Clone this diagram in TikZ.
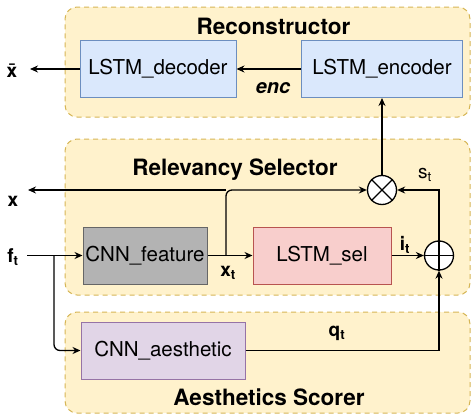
\documentclass[tikz,border=0pt]{standalone}
\usepackage{fontspec}
\setmainfont{TeX Gyre Heros}
\usetikzlibrary{arrows.meta}
\tikzset{>={Stealth[length=8pt,width=7pt]}}

\definecolor{grpfill}{HTML}{FFF2CC}
\definecolor{grpline}{HTML}{D6B656}
\definecolor{bluefill}{HTML}{DAE8FC}
\definecolor{blueline}{HTML}{6C8EBF}
\definecolor{grayfill}{HTML}{B3B3B3}
\definecolor{grayline}{HTML}{666666}
\definecolor{pinkfill}{HTML}{F8CECC}
\definecolor{pinkline}{HTML}{B85450}
\definecolor{purpfill}{HTML}{E1D5E7}
\definecolor{purpline}{HTML}{9673A6}

\begin{document}
\begin{tikzpicture}[x=1pt, y=-1pt, line width=1.3pt,
  group/.style={draw=grpline, fill=grpfill, dash pattern=on 5pt off 4pt, rounded corners=12pt, line width=1pt},
  block/.style={draw, line width=1pt, inner sep=0pt, minimum height=57pt, font=\fontsize{20.5}{24}\selectfont},
  title/.style={font=\fontsize{22.5}{26}\selectfont\bfseries},
  lbl/.style={font=\fontsize{19}{22}\selectfont\bfseries},
  op/.style={circle, draw, fill=white, minimum size=29pt, inner sep=0pt}]
  \useasboundingbox (0,0) rectangle (472,415);

  % Groups
  \node[group, minimum width=405pt, minimum height=110pt] (recgrp) at (267.5,62) {};
  \node[group, minimum width=405pt, minimum height=156pt] (relgrp) at (267.5,217) {};
  \node[group, minimum width=405pt, minimum height=101pt] (aesgrp) at (267.5,362.5) {};
  \node[title] (rectitle) at (273.5,26) {Reconstructor};
  \node[title] (reltitle) at (235,170) {Relevancy Selector};
  \node[title] (aestitle) at (269,397) {Aesthetics Scorer};

  % Boxes
  \node[block, draw=blueline, fill=bluefill, minimum width=156pt] (dec) at (158,69) {LSTM\_decoder};
  \node[block, draw=blueline, fill=bluefill, minimum width=161pt] (encd) at (382,69) {LSTM\_encoder};
  \node[block, draw=grayline, fill=grayfill, minimum width=124pt] (feat) at (145,255.5) {CNN\_feature};
  \node[block, draw=pinkline, fill=pinkfill, minimum width=138pt] (sel) at (322,255.5) {LSTM\_sel};
  \node[block, draw=purpline, fill=purpfill, minimum width=164pt] (aes) at (163,350.5) {CNN\_aesthetic};

  % Operators
  \node[op] (mul) at (382,190) {};
  \draw (mul.north east) -- (mul.south west) (mul.north west) -- (mul.south east);
  \node[op] (add) at (439,255.5) {};
  \draw (add.north) -- (add.south) (add.east) -- (add.west);

  % Reconstructor
  \coordinate (xbar) at (30,69);
  \draw[->] (dec.west) -- (xbar);
  \draw[->] (encd.west) -- (dec.east);
  \draw[->] (mul.north) -- (encd.south);
  \node[lbl] (xbarlbl) at (12,71) {\={x}};
  \node[font=\fontsize{20}{24}\selectfont\bfseries\itshape] (enclbl) at (273,88) {enc};

  % Relevancy Selector
  \coordinate (fin) at (27,255.5);
  \coordinate (fork) at (54,255.5);
  \coordinate (split) at (226,255.5);
  \coordinate (xout) at (28,190);
  \draw[->] (fin) -- (feat.west);
  \draw[->] (feat.east) -- (sel.west);
  \draw[->, rounded corners=6pt] (split) |- (mul.west);
  \draw[->] (split |- mul.west) -- (xout);
  \draw[->] (sel.east) -- (add.west);
  \draw[->] (add.north) |- (mul.east);
  \node[lbl] (flbl) at (13,257) {f\textsubscript{t}};
  \node[lbl] (xlbl) at (13,201) {x};
  \node[lbl] (xtlbl) at (228,273) {x\textsubscript{t}};
  \node[lbl] (itlbl) at (405,245) {i\textsubscript{t}};
  \node[font=\fontsize{19}{22}\selectfont] (stlbl) at (425,175) {s\textsubscript{t}};

  % Aesthetics Scorer
  \draw[->, rounded corners=6pt] (fork) |- (aes.west);
  \draw[->] (aes.east) -| (add.south);
  \node[lbl] (qtlbl) at (337,333) {q\textsubscript{t}};

\end{tikzpicture}
\end{document}
